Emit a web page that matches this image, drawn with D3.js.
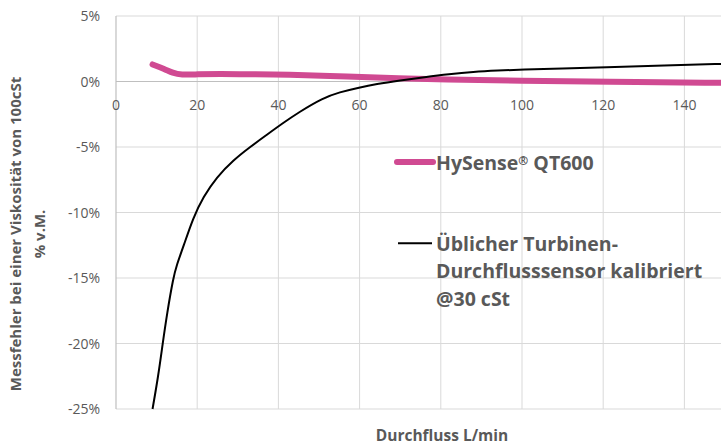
<!DOCTYPE html>
<html>
<head>
<meta charset="utf-8">
<script src="https://cdn.jsdelivr.net/npm/d3@7"></script>
<style>
  body { margin: 0; background: #fff; }
  svg { display: block; font-family: "Open Sans", Lato, sans-serif; }
</style>
</head>
<body>
<div id="chart"></div>
<script>
// Data
const xTicks = [0, 20, 40, 60, 80, 100, 120, 140];
const yTicks = [5, 0, -5, -10, -15, -20, -25];

const hysenseFlow = [9, 12, 14, 16, 20, 25, 35, 41, 57.6, 70, 80, 100, 120, 150];
const hysenseError = [1.3, 0.95, 0.65, 0.5, 0.55, 0.58, 0.55, 0.53, 0.38, 0.25, 0.15, 0.05, -0.02, -0.1];

const turbineFlow = [9, 10.4, 11.5, 12.6, 14.1, 14.9, 16.6, 19, 21.5, 24.8, 28.9, 33, 37, 41, 45, 51, 55, 60, 64, 70, 76, 82, 88, 94, 100, 110, 120, 135, 150];
const turbineError = [-25, -22.5, -20, -17.65, -15, -14.05, -12.6, -10.4, -8.8, -7.3, -6.0, -5.0, -4.1, -3.2, -2.35, -1.25, -0.82, -0.45, -0.2, 0.08, 0.33, 0.56, 0.74, 0.84, 0.91, 1.0, 1.09, 1.22, 1.35];

const width = 721;
const height = 446;
const textColor = '#595959';
const pink = '#d04a92';

const xScale = d3.scaleLinear().domain([0, 150]).range([116, 725]);
const yScale = d3.scaleLinear().domain([-25, 5]).range([409, 16]);

const svg = d3.select('#chart')
    .append('svg')
    .attr('width', width)
    .attr('height', height);

// clip to plot area
svg.append('clipPath').attr('id', 'plot')
    .append('rect')
    .attr('x', xScale(0)).attr('y', yScale(5) - 5)
    .attr('width', xScale(150) - xScale(0))
    .attr('height', yScale(-25) - yScale(5) + 10);

// gridlines
const grid = svg.append('g').attr('class', 'grid');
grid.selectAll('line.h')
    .data(yTicks.filter(d => d !== 0))
    .join('line')
    .attr('x1', xScale(0)).attr('x2', width)
    .attr('y1', d => yScale(d)).attr('y2', d => yScale(d))
    .attr('stroke', '#d9d9d9').attr('stroke-width', 1);
grid.selectAll('line.v')
    .data(xTicks.filter(d => d !== 0))
    .join('line')
    .attr('x1', d => xScale(d)).attr('x2', d => xScale(d))
    .attr('y1', yScale(5)).attr('y2', yScale(-25))
    .attr('stroke', '#d9d9d9').attr('stroke-width', 1);

// axes lines
svg.append('line')
    .attr('x1', xScale(0)).attr('x2', width)
    .attr('y1', yScale(0)).attr('y2', yScale(0))
    .attr('stroke', '#bfbfbf').attr('stroke-width', 1.2);
svg.append('line')
    .attr('x1', xScale(0)).attr('x2', xScale(0))
    .attr('y1', yScale(5)).attr('y2', yScale(-25))
    .attr('stroke', '#bfbfbf').attr('stroke-width', 1.2);

// tick labels
svg.append('g').selectAll('text')
    .data(yTicks)
    .join('text')
    .attr('x', 100)
    .attr('y', d => yScale(d) + 5)
    .attr('text-anchor', 'end')
    .attr('fill', textColor)
    .style('font-size', '14px')
    .text(d => d + '%');

svg.append('g').selectAll('text')
    .data(xTicks)
    .join('text')
    .attr('x', d => xScale(d))
    .attr('y', 109.5)
    .attr('text-anchor', 'middle')
    .attr('fill', textColor)
    .style('font-size', '14px')
    .text(d => d);

// series
const line = d3.line()
    .x(d => xScale(d[0]))
    .y(d => yScale(d[1]))
    .curve(d3.curveBasis);

const plot = svg.append('g').attr('clip-path', 'url(#plot)');

plot.append('path')
    .datum(d3.zip(hysenseFlow, hysenseError))
    .attr('d', line)
    .attr('fill', 'none')
    .attr('stroke', pink)
    .attr('stroke-width', 6)
    .attr('stroke-linecap', 'round');

plot.append('path')
    .datum(d3.zip(turbineFlow, turbineError))
    .attr('d', line)
    .attr('fill', 'none')
    .attr('stroke', '#000')
    .attr('stroke-width', 2);

// legend
const legend = svg.append('g').style('font-weight', 'bold').style('font-size', '19.5px').attr('fill', textColor);
legend.append('line')
    .attr('x1', 397).attr('x2', 433).attr('y1', 162).attr('y2', 162)
    .attr('stroke', pink).attr('stroke-width', 6).attr('stroke-linecap', 'round');
const t1 = legend.append('text').attr('x', 436).attr('y', 169.5);
t1.append('tspan').text('HySense');
t1.append('tspan').text('®').style('font-size', '12px').attr('baseline-shift', '40%');
t1.append('tspan').text(' QT600');

legend.append('line')
    .attr('x1', 398).attr('x2', 432).attr('y1', 243.3).attr('y2', 243.3)
    .attr('stroke', '#000').attr('stroke-width', 2);
const turbineLabel = ['Üblicher Turbinen-', 'Durchflusssensor kalibriert', '@30 cSt'];
legend.selectAll('text.turb')
    .data(turbineLabel)
    .join('text')
    .attr('x', 436)
    .attr('y', (d, i) => 250.5 + i * 27.6)
    .text(d => d);

// axis titles
svg.append('text')
    .attr('x', 442).attr('y', 441)
    .attr('text-anchor', 'middle')
    .attr('fill', textColor)
    .style('font-weight', 'bold')
    .style('font-size', '15.5px')
    .text('Durchfluss L/min');

const yTitle = svg.append('g')
    .attr('transform', 'translate(0,234) rotate(-90)')
    .attr('fill', textColor)
    .style('font-weight', 'bold')
    .style('font-size', '15px')
    .attr('text-anchor', 'middle');
yTitle.append('text').attr('x', 0).attr('y', 16).attr('dy', '0.35em')
    .text('Messfehler bei einer Viskosität von 100cSt');
yTitle.append('text').attr('x', 0).attr('y', 40).attr('dy', '0.35em')
    .text('% v.M.');
</script>
</body>
</html>
